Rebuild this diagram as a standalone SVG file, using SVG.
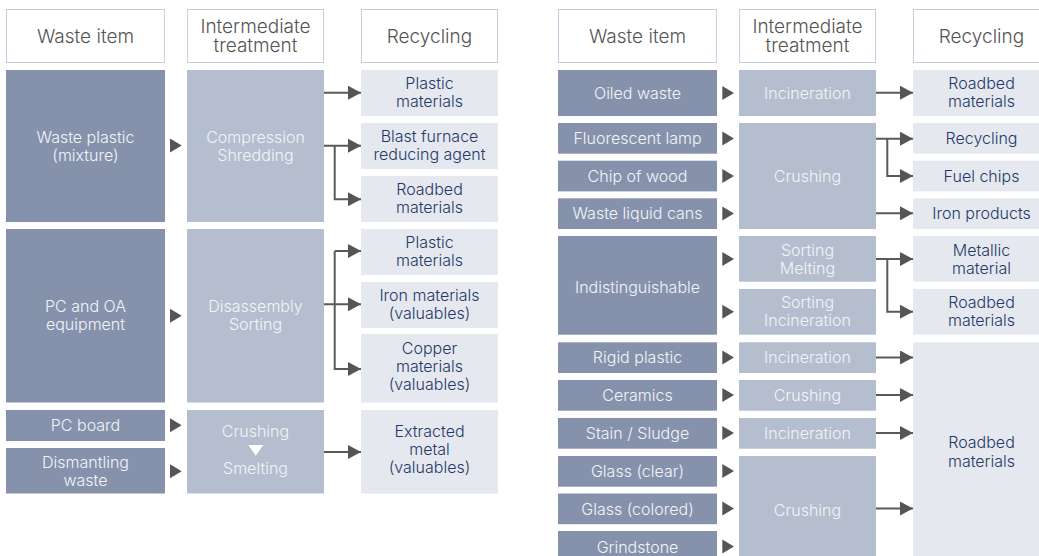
<svg xmlns="http://www.w3.org/2000/svg" width="1039" height="556" viewBox="0 0 1039 556">
  <style>
    text { font-family: Inter, "Noto Sans", "Liberation Sans", sans-serif; font-weight: 300; text-anchor: middle; }
    .hd rect { fill: #ffffff; stroke: #c5cddc; stroke-width: 1; }
    .hd text { font-size: 19px; fill: #555555; }
    .w rect { fill: #8692ac; }
    .w text { font-size: 16px; fill: #f2f4f8; }
    .m rect { fill: #b5bece; }
    .m text { font-size: 16px; fill: #f2f4f8; }
    .r rect { fill: #e5e8ee; }
    .r text { font-size: 16px; fill: #26386a; }
    .tri { fill: #555555; }
    .ln { fill: none; stroke: #5a5a5a; stroke-width: 2; }
  </style>
  <defs>
    <marker id="ah" markerUnits="userSpaceOnUse" markerWidth="13" markerHeight="14" refX="13" refY="7" orient="auto">
      <path d="M0,0 L13,7 L0,14 z" fill="#555555"/>
    </marker>
  </defs>
  <rect width="1039" height="556" fill="#ffffff"/>

  <!-- column headers, left table -->
  <g id="hdr-left" class="hd">
    <rect x="6.5" y="9.5" width="158" height="53"/>
    <text x="85.5" y="43.3">Waste item</text>
    <rect x="187.5" y="9.5" width="136" height="53"/>
    <text x="255.5" y="33.3">Intermediate</text>
    <text x="255.5" y="52.3">treatment</text>
    <rect x="361.5" y="9.5" width="136" height="53"/>
    <text x="429.5" y="43.3">Recycling</text>
  </g>

  <!-- column headers, right table -->
  <g id="hdr-right" class="hd">
    <rect x="558.5" y="9.5" width="158" height="53"/>
    <text x="637.5" y="43.3">Waste item</text>
    <rect x="739.5" y="9.5" width="136" height="53"/>
    <text x="807.5" y="33.3">Intermediate</text>
    <text x="807.5" y="52.3">treatment</text>
    <rect x="913.5" y="9.5" width="136" height="53"/>
    <text x="981.5" y="43.3">Recycling</text>
  </g>

  <!-- left table: waste items -->
  <g id="waste-plastic" class="w">
    <rect x="6" y="70" width="159" height="152"/>
    <text x="85.5" y="142.7">Waste plastic</text>
    <text x="85.5" y="160.7">(mixture)</text>
  </g>
  <g id="pc-oa" class="w">
    <rect x="6" y="229" width="159" height="173.5"/>
    <text x="85.5" y="311.5">PC and OA</text>
    <text x="85.5" y="329.5">equipment</text>
  </g>
  <g id="pc-board" class="w">
    <rect x="6" y="410" width="159" height="31"/>
    <text x="85.5" y="431.2">PC board</text>
  </g>
  <g id="dismantling" class="w">
    <rect x="6" y="448" width="159" height="45.5"/>
    <text x="85.5" y="467.5">Dismantling</text>
    <text x="85.5" y="485.5">waste</text>
  </g>

  <!-- left table: intermediate treatment -->
  <g id="compression" class="m">
    <rect x="187" y="70" width="137" height="152"/>
    <text x="255.5" y="142.7">Compression</text>
    <text x="255.5" y="160.7">Shredding</text>
  </g>
  <g id="disassembly" class="m">
    <rect x="187" y="229" width="137" height="173.5"/>
    <text x="255.5" y="311.5">Disassembly</text>
    <text x="255.5" y="329.5">Sorting</text>
  </g>
  <g id="crush-smelt" class="m">
    <rect x="187" y="410" width="137" height="83.5"/>
    <text x="255.5" y="437.3">Crushing</text>
    <path d="M248.3,445 L263.3,445 L255.8,455.8 z" fill="#ffffff"/>
    <text x="255.5" y="474">Smelting</text>
  </g>

  <!-- left table: recycling -->
  <g id="l-plastic-1" class="r">
    <rect x="361" y="70" width="137" height="46"/>
    <text x="429.5" y="89.3">Plastic</text>
    <text x="429.5" y="107.3">materials</text>
  </g>
  <g id="l-blast" class="r">
    <rect x="361" y="123" width="137" height="46"/>
    <text x="429.5" y="142.3">Blast furnace</text>
    <text x="429.5" y="160.3">reducing agent</text>
  </g>
  <g id="l-roadbed" class="r">
    <rect x="361" y="176" width="137" height="46"/>
    <text x="429.5" y="195.3">Roadbed</text>
    <text x="429.5" y="213.3">materials</text>
  </g>
  <g id="l-plastic-2" class="r">
    <rect x="361" y="229" width="137" height="46"/>
    <text x="429.5" y="248.3">Plastic</text>
    <text x="429.5" y="266.3">materials</text>
  </g>
  <g id="l-iron" class="r">
    <rect x="361" y="282" width="137" height="46"/>
    <text x="429.5" y="301.3">Iron materials</text>
    <text x="429.5" y="319.3">(valuables)</text>
  </g>
  <g id="l-copper" class="r">
    <rect x="361" y="334" width="137" height="68.5"/>
    <text x="429.5" y="354">Copper</text>
    <text x="429.5" y="372">materials</text>
    <text x="429.5" y="390">(valuables)</text>
  </g>
  <g id="l-extracted" class="r">
    <rect x="361" y="410" width="137" height="83.5"/>
    <text x="429.5" y="437">Extracted</text>
    <text x="429.5" y="455">metal</text>
    <text x="429.5" y="473">(valuables)</text>
  </g>

  <!-- right table: waste items -->
  <g id="oiled" class="w">
    <rect x="558" y="70" width="159" height="46"/>
    <text x="637.5" y="98.7">Oiled waste</text>
  </g>
  <g id="fluorescent" class="w">
    <rect x="558" y="123" width="159" height="30.7"/>
    <text x="637.5" y="144.2">Fluorescent lamp</text>
  </g>
  <g id="chip-wood" class="w">
    <rect x="558" y="160.7" width="159" height="30.7"/>
    <text x="637.5" y="181.8">Chip of wood</text>
  </g>
  <g id="liquid-cans" class="w">
    <rect x="558" y="198.3" width="159" height="30.7"/>
    <text x="637.5" y="219.3">Waste liquid cans</text>
  </g>
  <g id="indistinguishable" class="w">
    <rect x="558" y="236" width="159" height="98.7"/>
    <text x="637.5" y="292.8">Indistinguishable</text>
  </g>
  <g id="rigid-plastic" class="w">
    <rect x="558" y="342.3" width="159" height="30.7"/>
    <text x="637.5" y="363.3">Rigid plastic</text>
  </g>
  <g id="ceramics" class="w">
    <rect x="558" y="380" width="159" height="30.7"/>
    <text x="637.5" y="401">Ceramics</text>
  </g>
  <g id="stain-sludge" class="w">
    <rect x="558" y="418" width="159" height="30.7"/>
    <text x="637.5" y="439">Stain / Sludge</text>
  </g>
  <g id="glass-clear" class="w">
    <rect x="558" y="456" width="159" height="30.7"/>
    <text x="637.5" y="477">Glass (clear)</text>
  </g>
  <g id="glass-colored" class="w">
    <rect x="558" y="493.5" width="159" height="30.7"/>
    <text x="637.5" y="514.5">Glass (colored)</text>
  </g>
  <g id="grindstone" class="w">
    <rect x="558" y="531" width="159" height="30.7"/>
    <text x="637.5" y="552.5">Grindstone</text>
  </g>

  <!-- right table: intermediate treatment -->
  <g id="incin-1" class="m">
    <rect x="739" y="70" width="137" height="46"/>
    <text x="807.5" y="98.7">Incineration</text>
  </g>
  <g id="crush-1" class="m">
    <rect x="739" y="123" width="137" height="106"/>
    <text x="807.5" y="182">Crushing</text>
  </g>
  <g id="sort-melt" class="m">
    <rect x="739" y="236" width="137" height="45.7"/>
    <text x="807.5" y="255.5">Sorting</text>
    <text x="807.5" y="273.5">Melting</text>
  </g>
  <g id="sort-incin" class="m">
    <rect x="739" y="289" width="137" height="45.7"/>
    <text x="807.5" y="308.3">Sorting</text>
    <text x="807.5" y="326.3">Incineration</text>
  </g>
  <g id="incin-2" class="m">
    <rect x="739" y="342.3" width="137" height="30.7"/>
    <text x="807.5" y="363.3">Incineration</text>
  </g>
  <g id="crush-2" class="m">
    <rect x="739" y="380" width="137" height="30.7"/>
    <text x="807.5" y="401">Crushing</text>
  </g>
  <g id="incin-3" class="m">
    <rect x="739" y="418" width="137" height="30.7"/>
    <text x="807.5" y="439">Incineration</text>
  </g>
  <g id="crush-3" class="m">
    <rect x="739" y="456" width="137" height="110"/>
    <text x="807.5" y="516">Crushing</text>
  </g>

  <!-- right table: recycling -->
  <g id="r-roadbed-1" class="r">
    <rect x="913" y="70" width="136" height="46"/>
    <text x="981.5" y="89.3">Roadbed</text>
    <text x="981.5" y="107.3">materials</text>
  </g>
  <g id="r-recycling" class="r">
    <rect x="913" y="123" width="136" height="30.7"/>
    <text x="981.5" y="144.2">Recycling</text>
  </g>
  <g id="r-fuel" class="r">
    <rect x="913" y="160.7" width="136" height="30.7"/>
    <text x="981.5" y="181.8">Fuel chips</text>
  </g>
  <g id="r-iron" class="r">
    <rect x="913" y="198.3" width="136" height="30.7"/>
    <text x="981.5" y="219.3">Iron products</text>
  </g>
  <g id="r-metallic" class="r">
    <rect x="913" y="236" width="136" height="45.7"/>
    <text x="981.5" y="255.5">Metallic</text>
    <text x="981.5" y="273.5">material</text>
  </g>
  <g id="r-roadbed-2" class="r">
    <rect x="913" y="289" width="136" height="45.7"/>
    <text x="981.5" y="308.3">Roadbed</text>
    <text x="981.5" y="326.3">materials</text>
  </g>
  <g id="r-roadbed-3" class="r">
    <rect x="913" y="342.3" width="136" height="230"/>
    <text x="981.5" y="448.3">Roadbed</text>
    <text x="981.5" y="466.5">materials</text>
  </g>

  <!-- connectors -->
  <g id="connectors">
    <!-- item-to-treatment pointers -->
    <g class="tri">
      <path d="M170,138.5 L170,152.5 L181.7,145.5 z"/>
      <path d="M170,308.7 L170,322.7 L181.7,315.7 z"/>
      <path d="M170,418.3 L170,432.3 L181.7,425.3 z"/>
      <path d="M170,464.3 L170,478.3 L181.7,471.3 z"/>

      <path d="M722.3,86 L722.3,100 L734,93 z"/>
      <path d="M722.3,131.5 L722.3,145.5 L734,138.5 z"/>
      <path d="M722.3,169 L722.3,183 L734,176 z"/>
      <path d="M722.3,206.5 L722.3,220.5 L734,213.5 z"/>
      <path d="M722.3,252 L722.3,266 L734,259 z"/>
      <path d="M722.3,304.7 L722.3,318.7 L734,311.7 z"/>
      <path d="M722.3,350.5 L722.3,364.5 L734,357.5 z"/>
      <path d="M722.3,388 L722.3,402 L734,395 z"/>
      <path d="M722.3,426 L722.3,440 L734,433 z"/>
      <path d="M722.3,464 L722.3,478 L734,471 z"/>
      <path d="M722.3,501.5 L722.3,515.5 L734,508.5 z"/>
      <path d="M722.3,539.5 L722.3,553.5 L734,546.5 z"/>
    </g>

    <!-- treatment-to-recycling arrows, left table -->
    <path class="ln" d="M324,92.7 H361" marker-end="url(#ah)"/>
    <path class="ln" d="M324,145.7 H361" marker-end="url(#ah)"/>
    <path class="ln" d="M334.7,145.7 V199.3 H361" marker-end="url(#ah)"/>
    <path class="ln" d="M324,304.3 H361" marker-end="url(#ah)"/>
    <path class="ln" d="M334.7,251 V369 H361" marker-end="url(#ah)"/>
    <path class="ln" d="M334.7,251 H361" marker-end="url(#ah)"/>
    <path class="ln" d="M324,452 H361" marker-end="url(#ah)"/>

    <!-- treatment-to-recycling arrows, right table -->
    <path class="ln" d="M876,92.7 H913" marker-end="url(#ah)"/>
    <path class="ln" d="M876,138.7 H913" marker-end="url(#ah)"/>
    <path class="ln" d="M887.3,138.7 V176 H913" marker-end="url(#ah)"/>
    <path class="ln" d="M876,213.3 H913" marker-end="url(#ah)"/>
    <path class="ln" d="M876,259 H913" marker-end="url(#ah)"/>
    <path class="ln" d="M887.3,259 V311.7 H913" marker-end="url(#ah)"/>
    <path class="ln" d="M876,357.5 H913" marker-end="url(#ah)"/>
    <path class="ln" d="M876,395 H913" marker-end="url(#ah)"/>
    <path class="ln" d="M876,433 H913" marker-end="url(#ah)"/>
    <path class="ln" d="M876,508.5 H913" marker-end="url(#ah)"/>
  </g>
</svg>
